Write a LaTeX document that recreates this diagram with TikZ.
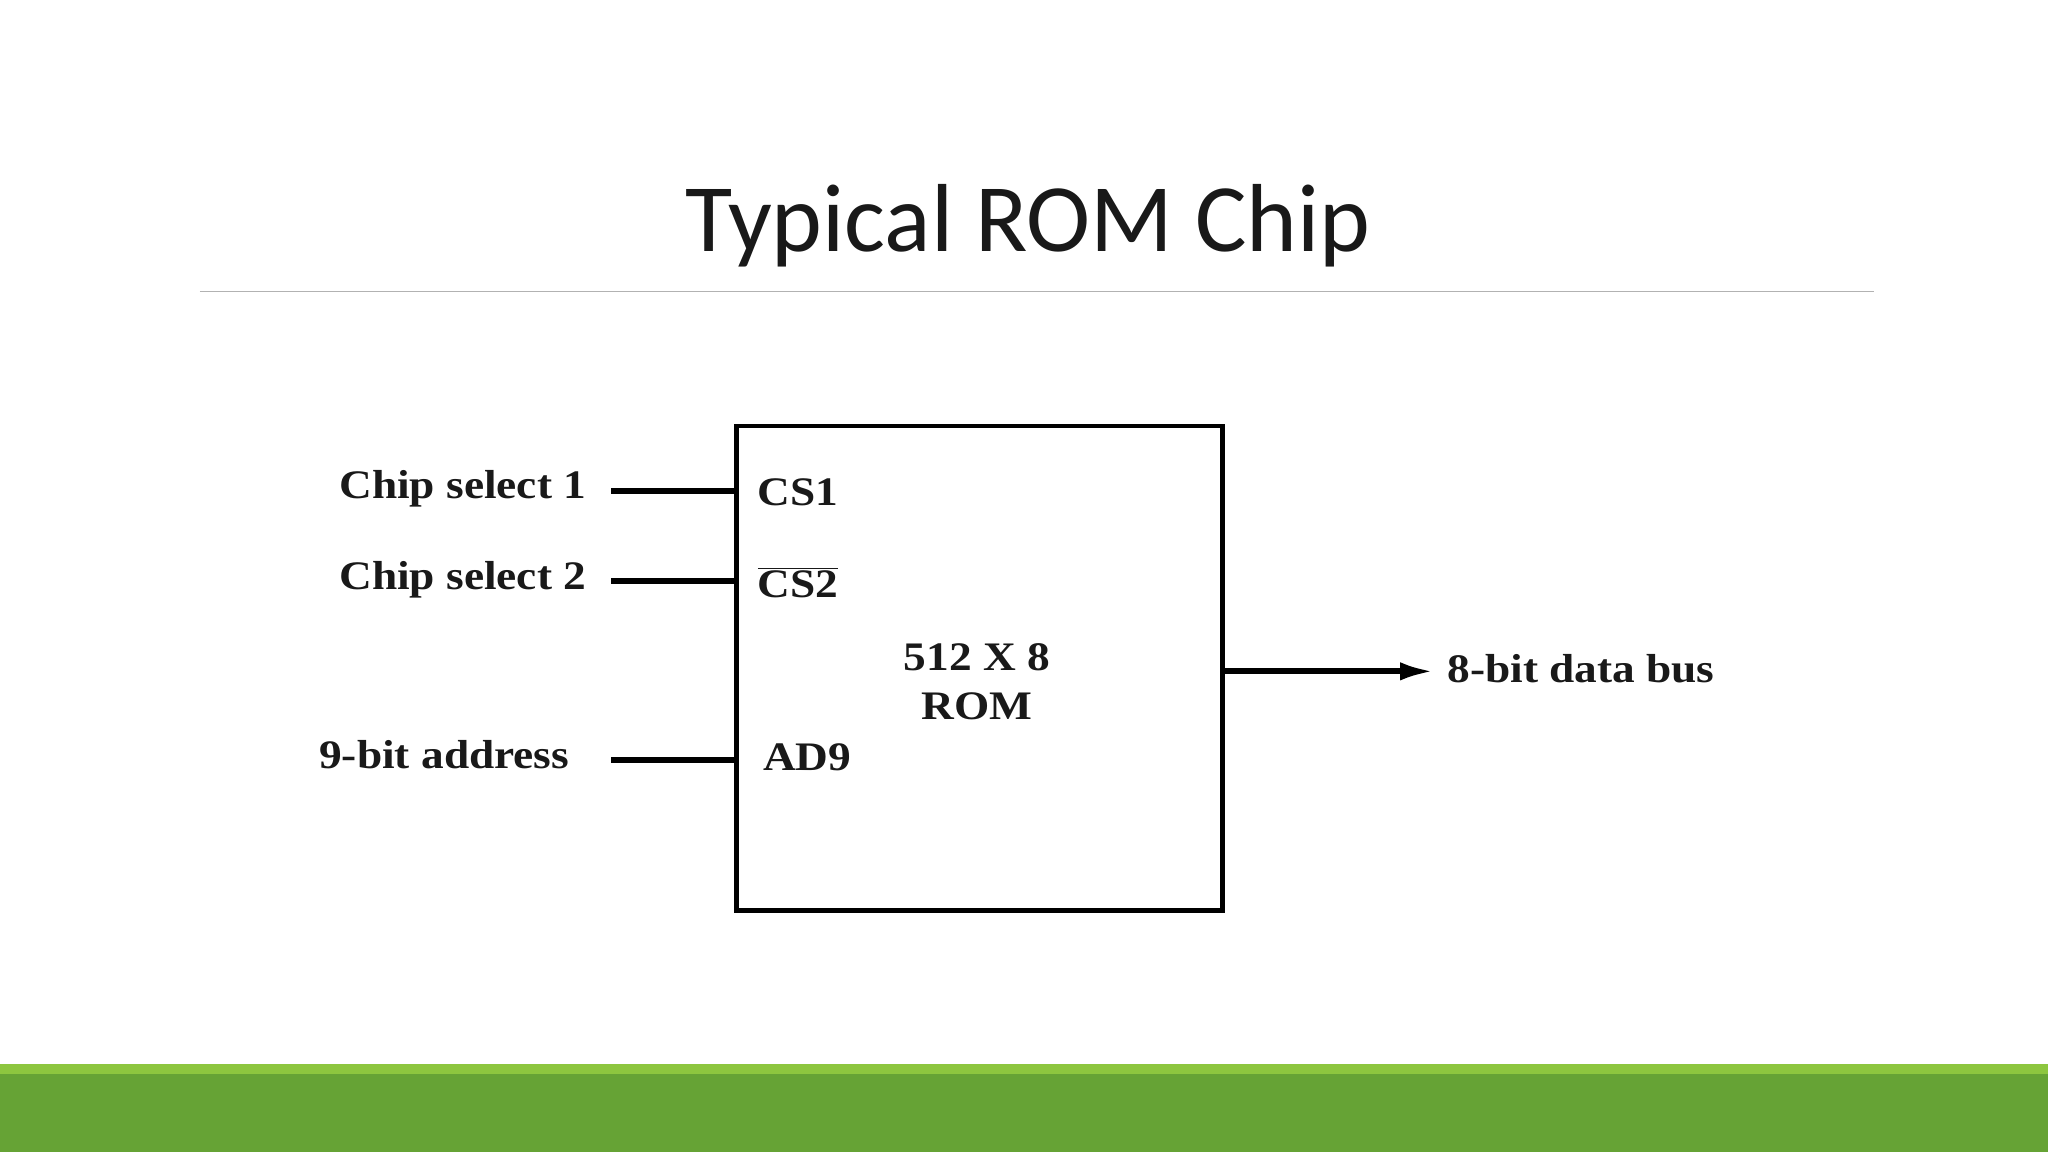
\documentclass[tikz,border=0pt]{standalone}
\usetikzlibrary{arrows.meta}
\usepackage{fontspec}
\setmainfont{Liberation Serif}
\newfontfamily\titlefont{Carlito}
\definecolor{lgreen}{RGB}{141,198,63}
\definecolor{dgreen}{RGB}{102,163,53}
\begin{document}
\begin{tikzpicture}[x=1pt,y=-1pt,
  lbl/.style={font=\fontsize{31}{32}\selectfont\bfseries, inner sep=0pt, xscale=1.12},
  wire/.style={line width=4.5pt},
  every node/.style={text=black!90}]
\useasboundingbox (0,0) rectangle (1568,882);
\fill[white] (0,0) rectangle (1568,882);
\node[font=\titlefont\fontsize{74}{80}\selectfont, inner sep=0pt] (title) at (787,173) {Typical ROM Chip};
\draw[gray!60, line width=1pt] (153,223) coordinate (l1) -- (1435,223) coordinate (l2);
\fill[lgreen] (0,815) rectangle (1568,823);
\fill[dgreen] (0,822) rectangle (1568,882);
\node[draw, line width=3.5pt, minimum width=372pt, minimum height=371pt, inner sep=0pt] (rom) at (750,511.5) {};
\coordinate (p1) at (564,376); \coordinate (p2) at (564,445); \coordinate (p3) at (564,582); \coordinate (po) at (936,514);
\node[lbl, anchor=east] (t1) at (449,374) {Chip select 1};
\node[lbl, anchor=east] (t2) at (449,444) {Chip select 2};
\node[lbl, anchor=east] (t3) at (436,578) {9-bit address};
\node[lbl, anchor=west] (to) at (1108,512) {8-bit data bus};
\draw[wire] (468,376) coordinate (q1) -- (p1);
\draw[wire] (468,445) coordinate (q2) -- (p2);
\draw[wire] (468,582) coordinate (q3) -- (p3);
\draw[wire, -{Latex[length=26pt,width=14pt]}] (po) -- (1098,514) coordinate (qo);
\node[lbl, anchor=west] (cs1) at (580,377) {CS1};
\node[lbl, anchor=west] (cs2) at (580,446) {$\overline{\mbox{\bfseries CS2}}$};
\node[lbl, anchor=west] (ad9) at (584,580) {AD9};
\node[lbl, align=center, font=\fontsize{31}{38}\selectfont\bfseries] (mid) at (748,522) {512 X 8\\ROM};
\end{tikzpicture}
\end{document}
